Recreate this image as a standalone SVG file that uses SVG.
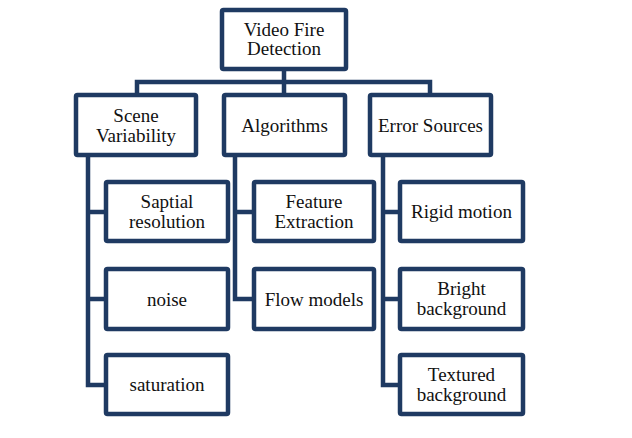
<svg xmlns="http://www.w3.org/2000/svg" width="632" height="438" viewBox="0 0 632 438">
<style>
.box{fill:#fff;stroke:#1f3a62;stroke-width:4.5}
.c{fill:none;stroke:#1f3a62;stroke-width:4.5;stroke-linejoin:miter;stroke-linecap:square}
text{font-family:'Liberation Serif','Times New Roman',serif;font-size:19px;fill:#111;text-anchor:middle}
</style>
<rect width="632" height="438" fill="#fff"/>
<g id="connectors">
<path class="c" d="M137,95 V82 H430 V95 M284,69 V95"/>
<path class="c" d="M88,155 V385 H106 M88,212 H106 M88,299 H106"/>
<path class="c" d="M235,155 V299 H254 M235,212 H254"/>
<path class="c" d="M383,155 V385 H400 M383,212 H400 M383,299 H400"/>
</g>
<g id="video-fire-detection"><rect class="box" x="222" y="10" width="124" height="59" rx="1.5"/><text x="284" y="36">Video Fire</text><text x="284" y="55">Detection</text></g>
<g id="scene-variability"><rect class="box" x="76" y="95" width="120" height="60" rx="1.5"/><text x="136" y="121.5">Scene</text><text x="136" y="141.5">Variability</text></g>
<g id="algorithms"><rect class="box" x="224" y="95" width="121" height="60" rx="1.5"/><text x="284.5" y="131.5">Algorithms</text></g>
<g id="error-sources"><rect class="box" x="370" y="95" width="121" height="60" rx="1.5"/><text x="430.5" y="131.5">Error Sources</text></g>
<g id="saptial-resolution"><rect class="box" x="106" y="182" width="122" height="59" rx="1.5"/><text x="167" y="208">Saptial</text><text x="167" y="228">resolution</text></g>
<g id="noise"><rect class="box" x="106" y="269" width="122" height="60" rx="1.5"/><text x="167" y="305.5">noise</text></g>
<g id="saturation"><rect class="box" x="106" y="355" width="122" height="59" rx="1.5"/><text x="167" y="391">saturation</text></g>
<g id="feature-extraction"><rect class="box" x="254" y="182" width="120" height="59" rx="1.5"/><text x="314" y="208">Feature</text><text x="314" y="228">Extraction</text></g>
<g id="flow-models"><rect class="box" x="254" y="269" width="120" height="60" rx="1.5"/><text x="314" y="305.5">Flow models</text></g>
<g id="rigid-motion"><rect class="box" x="400" y="182" width="123" height="59" rx="1.5"/><text x="461.5" y="218">Rigid motion</text></g>
<g id="bright-background"><rect class="box" x="400" y="269" width="123" height="60" rx="1.5"/><text x="461.5" y="295">Bright</text><text x="461.5" y="315">background</text></g>
<g id="textured-background"><rect class="box" x="400" y="355" width="123" height="59" rx="1.5"/><text x="461.5" y="381">Textured</text><text x="461.5" y="401">background</text></g>
</svg>
